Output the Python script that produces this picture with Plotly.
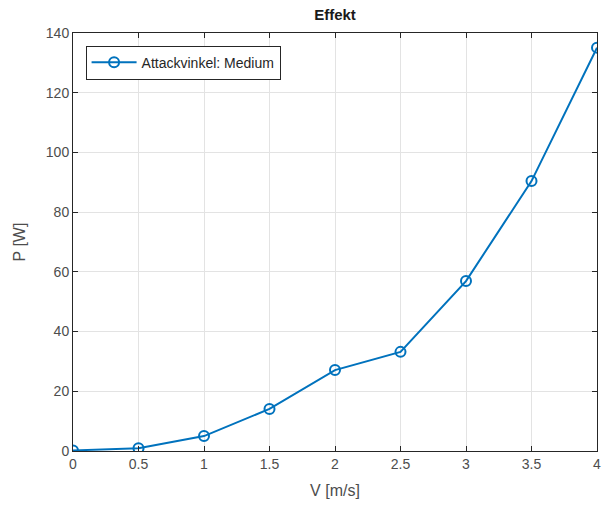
import plotly.graph_objects as go

v = [0, 0.5, 1, 1.5, 2, 2.5, 3, 3.5, 4]
p = [0.2, 0.9, 5.0, 14.1, 27.1, 33.2, 56.9, 90.4, 135.1]
x_ticks = [0, 0.5, 1, 1.5, 2, 2.5, 3, 3.5, 4]
y_ticks = [0, 20, 40, 60, 80, 100, 120, 140]

color = "#0072BD"
fig = go.Figure()
fig.add_trace(go.Scatter(
    x=v, y=p, mode="lines+markers", name="Attackvinkel: Medium",
    line=dict(color=color, width=2),
    marker=dict(symbol="circle-open", size=10, color=color, line=dict(width=2, color=color)),
))

axis_common = dict(
    showline=True, linecolor="#262626", linewidth=1, mirror="ticks",
    ticks="inside", ticklen=5, tickcolor="#262626",
    showgrid=True, gridcolor="#e3e3e3", gridwidth=1,
    zeroline=False,
    tickfont=dict(family="Liberation Sans, Arial", size=14, color="#4d4d4d"),
)

fig.update_layout(
    width=610, height=512,
    margin=dict(l=73, r=9, t=33, b=61),
    paper_bgcolor="white", plot_bgcolor="white",
    title=dict(text="<b>Effekt</b>", x=0.5, xanchor="center", xref="paper", y=1, yref="container", yanchor="top", pad=dict(t=9),
               font=dict(family="Liberation Sans, Arial", size=15, color="#1a1a1a")),
    xaxis=dict(axis_common, range=[0, 4], tickvals=x_ticks, ticktext=[str(t) for t in x_ticks],
               title=dict(text="V [m/s]", standoff=14, font=dict(family="Liberation Sans, Arial", size=16, color="#4d4d4d"))),
    yaxis=dict(axis_common, range=[0, 140], tickvals=y_ticks,
               title=dict(text="P [W]", standoff=16, font=dict(family="Liberation Sans, Arial", size=16, color="#4d4d4d"))),
    legend=dict(x=0.024, y=0.97, xanchor="left", yanchor="top",
                bordercolor="#262626", borderwidth=1, bgcolor="white",
                font=dict(family="Liberation Sans, Arial", size=14, color="#262626"),
                itemwidth=45, tracegroupgap=0),
    showlegend=True,
)

fig.write_html("out.html")
